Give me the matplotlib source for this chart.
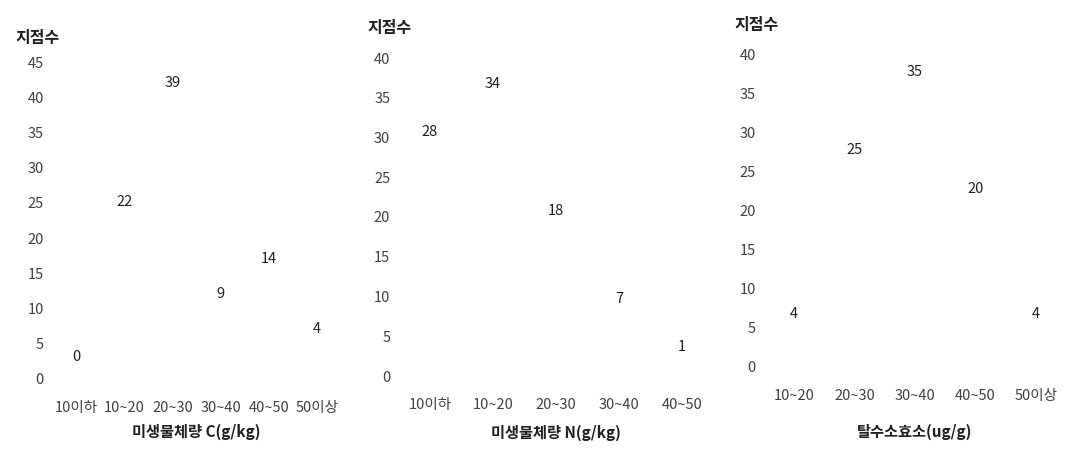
import matplotlib
matplotlib.use("Agg")
import matplotlib.pyplot as plt

# ---- data ----
cats_c = ["10이하", "10~20", "20~30", "30~40", "40~50", "50이상"]
vals_c = [0, 22, 39, 9, 14, 4]
yticks_c = [0, 5, 10, 15, 20, 25, 30, 35, 40, 45]

cats_n = ["10이하", "10~20", "20~30", "30~40", "40~50"]
vals_n = [28, 34, 18, 7, 1]
yticks_n = [0, 5, 10, 15, 20, 25, 30, 35, 40]

cats_d = ["10~20", "20~30", "30~40", "40~50", "50이상"]
vals_d = [4, 25, 35, 20, 4]
yticks_d = [0, 5, 10, 15, 20, 25, 30, 35, 40]

xlabels = ["미생물체량 C(g/kg)", "미생물체량 N(g/kg)", "탈수소효소(ug/g)"]
ylabel = "지점수"

plt.rcParams["font.family"] = ["Noto Sans CJK KR", "DejaVu Sans"]

W, H = 1065, 457
fig = plt.figure(figsize=(W / 100, H / 100), dpi=100)

# axes boxes in pixels: left, right, top(ymax), bottom(0)
boxes = [
    (52, 341, 62, 379),
    (398.5, 713.5, 58, 376),
    (764, 1066, 54, 367),
]
ylab_pos = [(38, 38), (390, 28), (757, 25)]
xlabpads = [6, 9, 15]
panels = [(cats_c, vals_c, yticks_c), (cats_n, vals_n, yticks_n), (cats_d, vals_d, yticks_d)]

for (cats, vals, yt), (l, r, t, b), xl, (yx, yy), lp in zip(panels, boxes, xlabels, ylab_pos, xlabpads):
    ax = fig.add_axes([l / W, 1 - b / H, (r - l) / W, (b - t) / H])
    x = list(range(len(cats)))
    ax.bar(x, vals, width=0.6, color="white")
    ax.set_xlim(-0.5, len(cats) - 0.5)
    ax.set_ylim(0, yt[-1])
    ax.set_yticks(yt)
    ax.set_xticks(x)
    ax.set_xticklabels(cats)
    for s in ax.spines.values():
        s.set_visible(False)
    ax.tick_params(axis="both", length=0, labelsize=10.5, colors="#404040")
    ax.tick_params(axis="x", pad=16)
    ax.tick_params(axis="y", pad=6)
    for xi, v in zip(x, vals):
        ax.annotate(str(v), (xi, v), xytext=(0, 15.5), textcoords="offset points",
                    ha="center", va="center", fontsize=10.5, color="#202020")
    ax.set_xlabel(xl, fontsize=11, fontweight="bold", color="#202020", labelpad=lp)
    fig.text(yx / W, 1 - yy / H, ylabel, ha="center", va="center",
             fontsize=11.5, fontweight="bold", color="#202020")

fig.savefig("out.png", dpi=100)
